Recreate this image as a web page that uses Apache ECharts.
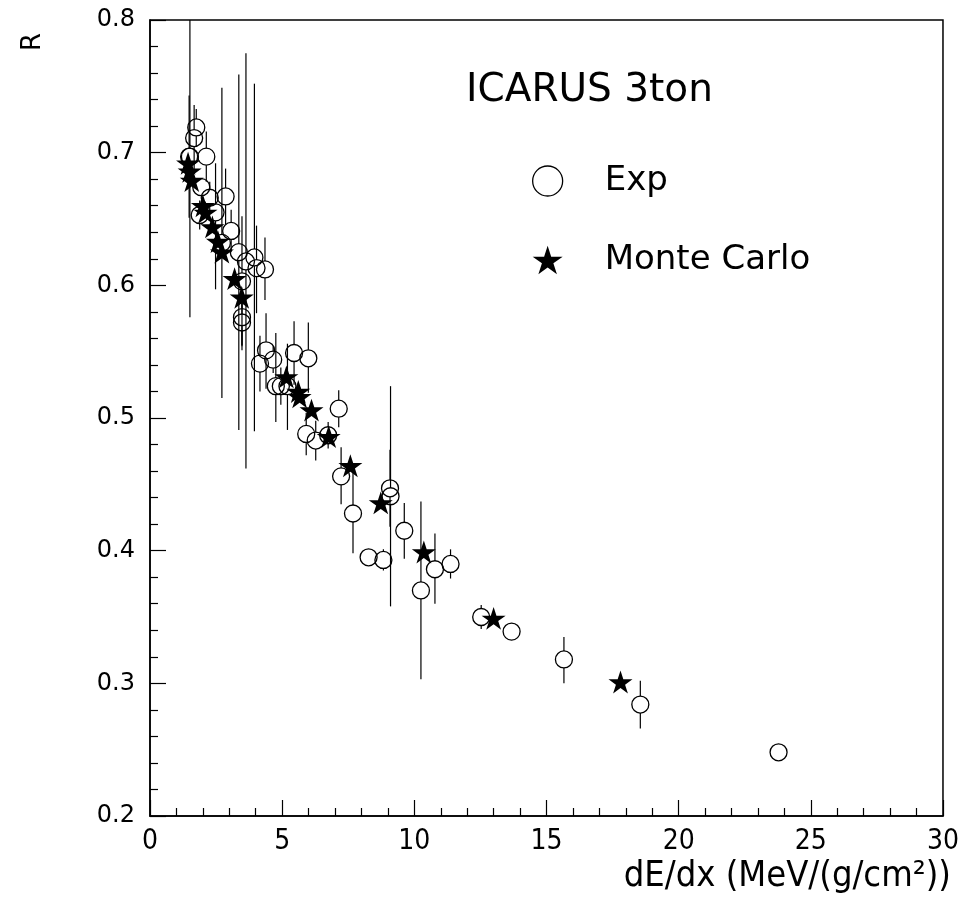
<!DOCTYPE html>
<html>
<head>
<meta charset="utf-8">
<script src="https://cdn.jsdelivr.net/npm/echarts@6/dist/echarts.min.js"></script>
<style>html,body{margin:0;padding:0;background:#fff;}#c{width:962px;height:907px;}</style>
</head>
<body>
<div id="c"></div>
<script>
// ---- data ----
const expX = [1.48,1.51,1.67,1.75,2.13,1.94,2.26,2.86,1.88,2.48,3.07,2.72,3.36,3.63,3.95,4.03,4.35,3.48,3.48,3.48,4.39,4.16,4.66,5.45,5.99,4.76,4.95,5.20,7.14,5.91,6.27,6.74,7.23,7.68,9.08,9.10,9.62,8.27,8.83,10.25,10.78,11.37,12.53,13.68,15.66,18.55,23.78];
const expY = [0.697,0.697,0.711,0.719,0.697,0.674,0.666,0.667,0.653,0.655,0.641,0.632,0.625,0.618,0.621,0.613,0.612,0.603,0.576,0.572,0.551,0.541,0.544,0.549,0.545,0.524,0.524,0.524,0.507,0.488,0.483,0.487,0.456,0.428,0.447,0.441,0.415,0.395,0.393,0.370,0.386,0.390,0.350,0.339,0.318,0.284,0.248];
const expLow = [0.651,0.576,0.686,0.705,0.678,0.674,0.654,0.646,0.642,0.597,0.625,0.515,0.491,0.462,0.490,0.579,0.589,0.554,0.555,0.551,0.522,0.520,0.534,0.525,0.519,0.497,0.510,0.491,0.493,0.472,0.468,0.477,0.435,0.398,0.418,0.358,0.394,0.395,0.385,0.303,0.360,0.379,0.341,0.339,0.300,0.266,0.248];
const expHigh = [0.743,0.818,0.736,0.733,0.716,0.674,0.678,0.688,0.664,0.692,0.657,0.749,0.759,0.775,0.752,0.645,0.636,0.652,0.597,0.593,0.579,0.562,0.554,0.573,0.572,0.564,0.538,0.556,0.521,0.504,0.498,0.497,0.478,0.466,0.476,0.524,0.436,0.395,0.401,0.437,0.413,0.401,0.359,0.339,0.335,0.302,0.248];
const mcX = [1.44,1.50,1.58,2.00,2.10,2.36,2.57,2.72,3.20,3.47,5.16,5.61,5.66,6.11,6.76,7.58,8.73,10.36,13.00,17.80];
const mcY = [0.692,0.686,0.679,0.660,0.655,0.644,0.633,0.625,0.605,0.591,0.531,0.520,0.516,0.506,0.486,0.464,0.436,0.399,0.349,0.301];
const xMin = 0, xMax = 30, xStep = 5;
const yMin = 0.2, yMax = 0.8, yStep = 0.1;
const titleText = 'ICARUS 3ton';
const expName = 'Exp';
const mcName = 'Monte Carlo';
const xName = 'dE/dx (MeV/(g/cm\u00B2))';
const yName = 'R';

// ---- chart ----
const STAR = 'path://M50 0 L61.23 34.55 L97.55 34.55 L68.17 55.9 L79.39 90.45 L50 69.1 L20.61 90.45 L31.83 55.9 L2.45 34.55 L38.77 34.55 Z';
const R_PX = 8.5;
const expData = expX.map((x, i) => [x, expY[i]]);
const errData = expX.map((x, i) => [x, expY[i], expLow[i], expHigh[i]]);
const mcData = mcX.map((x, i) => [x, mcY[i]]);
const narrow = '"Liberation Sans Narrow", "DejaVu Sans Condensed", "Liberation Sans", sans-serif';
const wide = '"DejaVu Sans", sans-serif';

const chart = echarts.init(document.getElementById('c'), null, {renderer: 'canvas'});
chart.setOption({
  animation: false,
  backgroundColor: '#fff',
  title: {
    text: titleText, left: 461, top: 66,
    textStyle: {fontFamily: wide, fontSize: 39, fontWeight: 'normal', color: '#000'}
  },
  legend: {
    orient: 'vertical', left: 527, top: 159,
    itemWidth: 30, itemHeight: 30, itemGap: 45,
    textStyle: {fontFamily: wide, fontSize: 34, color: '#000', lineHeight: 30, padding: [0, 0, 0, 37]},
    data: [
      {name: expName, icon: 'circle', itemStyle: {color: 'rgba(0,0,0,0)', borderColor: '#000', borderWidth: 1.3, opacity: 1}},
      {name: mcName, icon: STAR, itemStyle: {color: '#000', borderWidth: 0, opacity: 1}}
    ]
  },
  grid: {left: 150, top: 20, width: 798, height: 796, show: true, borderColor: '#000', borderWidth: 1.5, backgroundColor: 'transparent'},
  xAxis: {
    type: 'value', min: xMin, max: xMax, interval: xStep,
    name: xName, nameLocation: 'end', nameGap: 8,
    nameTextStyle: {fontFamily: narrow, fontSize: 36, color: '#000', align: 'right', verticalAlign: 'top', padding: [43, 0, 0, 0]},
    axisLine: {show: true, onZero: false, lineStyle: {color: '#000', width: 1.5}},
    axisTick: {show: true, inside: true, length: 16, lineStyle: {color: '#000', width: 1.2}},
    minorTick: {show: true, splitNumber: 5, length: 8, lineStyle: {color: '#000', width: 1.2}},
    splitLine: {show: false},
    axisLabel: {fontFamily: narrow, fontSize: 28, color: '#000', margin: 12, formatter: v => String(v)}
  },
  yAxis: {
    type: 'value', min: yMin, max: yMax, interval: yStep,
    axisLine: {show: true, onZero: false, lineStyle: {color: '#000', width: 1.5}},
    axisTick: {show: true, inside: true, length: 16, lineStyle: {color: '#000', width: 1.2}},
    minorTick: {show: true, splitNumber: 5, length: 8, lineStyle: {color: '#000', width: 1.2}},
    splitLine: {show: false},
    axisLabel: {fontFamily: wide, fontSize: 24, color: '#000', margin: 15, formatter: v => v.toFixed(1)}
  },
  graphic: [{
    type: 'text', x: 33, y: 42, rotation: Math.PI / 2,
    style: {text: yName, font: '26px "DejaVu Sans", sans-serif', fill: '#000', align: 'center', verticalAlign: 'middle'}
  }],
  series: [
    {
      type: 'custom', name: 'err', clip: true, silent: true, z: 1,
      data: errData,
      renderItem: function (params, api) {
        const x = api.value(0), y = api.value(1), lo = api.value(2), hi = api.value(3);
        const p = api.coord([x, y]);
        const pl = api.coord([x, lo]);
        const ph = api.coord([x, hi]);
        const children = [];
        const st = {stroke: '#000', lineWidth: 1.2};
        if (ph[1] < p[1] - R_PX) children.push({type: 'line', shape: {x1: p[0], y1: ph[1], x2: p[0], y2: p[1] - R_PX}, style: st});
        if (pl[1] > p[1] + R_PX) children.push({type: 'line', shape: {x1: p[0], y1: p[1] + R_PX, x2: p[0], y2: pl[1]}, style: st});
        return {type: 'group', children: children};
      }
    },
    {
      type: 'scatter', name: expName, data: expData, z: 2,
      symbol: 'circle', symbolSize: 17,
      itemStyle: {color: 'rgba(0,0,0,0)', borderColor: '#000', borderWidth: 1.3, opacity: 1}
    },
    {
      type: 'scatter', name: mcName, data: mcData, z: 3,
      symbol: STAR, symbolSize: 24, symbolKeepAspect: true,
      itemStyle: {color: '#000', opacity: 1}
    }
  ]
});
</script>
</body>
</html>
